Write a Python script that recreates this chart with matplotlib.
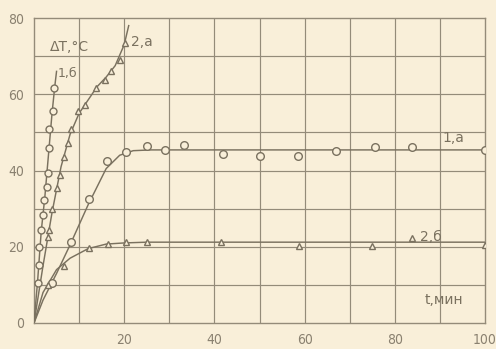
import matplotlib
matplotlib.use("Agg")
import matplotlib.pyplot as plt

# ---- data ----
# curve 1,a (circles)
t_1a = [3.9, 8.3, 12.3, 16.2, 20.3, 25.0, 29.0, 33.2, 41.8, 50.0, 58.5, 67.0, 75.6, 83.8, 100.0]
T_1a = [10.5, 21.2, 32.5, 42.4, 44.8, 46.5, 45.4, 46.7, 44.2, 43.8, 43.8, 45.1, 46.2, 46.2, 45.4]
line_t_1a = [0, 2, 5, 8, 12, 16, 19, 22, 26, 100]
line_T_1a = [0, 6, 13, 20.5, 31, 40.5, 44, 45.2, 45.4, 45.4]

# curve 2,b (triangles)
t_2b = [3.0, 6.6, 12.3, 16.3, 20.5, 25.0, 41.5, 58.7, 75.0, 83.8, 100.0]
T_2b = [10.0, 15.0, 19.7, 20.8, 21.2, 21.2, 21.2, 20.2, 20.3, 22.3, 20.5]
line_t_2b = [0, 2, 5, 8, 12, 16, 20, 25, 100]
line_T_2b = [0, 8, 14, 17, 19.5, 20.7, 21.0, 21.2, 21.2]

# curve 1,b (circles, steepest)
t_1b = [0.8, 1.0, 1.2, 1.6, 2.0, 2.3, 2.8, 3.0, 3.4, 3.4, 4.2, 4.5]
T_1b = [10.5, 15.2, 20.0, 24.4, 28.3, 32.3, 35.6, 39.4, 46.0, 51.0, 55.5, 61.6]
line_t_1b = [0, 0.8, 1.6, 2.4, 3.2, 4.0, 4.6, 5.0]
line_T_1b = [0, 11, 24, 33, 44, 55, 62, 66]

# curve 2,a (triangles)
t_2a = [3.0, 3.4, 4.1, 5.2, 5.7, 6.6, 7.5, 8.3, 9.7, 11.2, 13.8, 15.7, 17.1, 19.0, 20.1]
T_2a = [22.6, 24.4, 30.0, 35.4, 38.8, 43.6, 47.1, 51.0, 55.5, 57.2, 61.6, 63.8, 66.0, 69.0, 73.5]
line_t_2a = [0, 2, 4, 6, 8, 10, 12, 14, 16, 18, 20, 21]
line_T_2a = [0, 15, 29, 41, 49.5, 55, 58.5, 62, 64.5, 67.5, 73, 78]

x_ticks = [0, 20, 40, 60, 80, 100]
x_labels = ["", "20", "40", "60", "80", "100"]
y_ticks = [0, 20, 40, 60, 80]
y_labels = ["0", "20", "40", "60", "80"]

# ---- style ----
bg = "#f9efd9"
ink = "#7a715f"
grid_c = "#948b79"
label_c = "#8a8170"

fig = plt.figure(figsize=(4.96, 3.49), dpi=100, facecolor=bg)
ax = fig.add_axes([34 / 496, 1 - 323 / 349, (485 - 34) / 496, (323 - 18) / 349])
ax.set_facecolor(bg)
ax.set_xlim(0, 100)
ax.set_ylim(0, 80)

for v in range(10, 100, 10):
    ax.axvline(v, color=grid_c, lw=0.85, zorder=1)
for v in range(10, 80, 10):
    ax.axhline(v, color=grid_c, lw=0.85, zorder=1)
for s in ax.spines.values():
    s.set_color(grid_c)
    s.set_linewidth(1.0)

ax.set_xticks(x_ticks)
ax.set_xticklabels(x_labels)
ax.set_yticks(y_ticks)
ax.set_yticklabels(y_labels)
ax.tick_params(length=0, colors=label_c, labelsize=10)
ax.tick_params(axis="x", pad=7)
ax.tick_params(axis="y", pad=7)
for lab in ax.get_xticklabels() + ax.get_yticklabels():
    lab.set_fontfamily("DejaVu Sans")
    lab.set_fontstretch("condensed")

lw = 1.05
ax.plot(line_t_1a, line_T_1a, color=ink, lw=lw, zorder=3)
ax.plot(line_t_2b, line_T_2b, color=ink, lw=lw, zorder=3)
ax.plot(line_t_1b, line_T_1b, color=ink, lw=lw, zorder=3)
ax.plot(line_t_2a, line_T_2a, color=ink, lw=lw, zorder=3)

mk = dict(linestyle="none", markerfacecolor=bg, markeredgecolor=ink, markeredgewidth=1.0, zorder=4)
ax.plot(t_1a, T_1a, marker="o", markersize=5.5, **mk)
ax.plot(t_1b, T_1b, marker="o", markersize=5.0, **mk)
ax.plot(t_2b, T_2b, marker="^", markersize=5.0, **mk)
ax.plot(t_2a, T_2a, marker="^", markersize=5.0, **mk)

ax.text(3.5, 72.5, "ΔT,°C", color=ink, fontsize=10, ha="left", va="center", zorder=5)
ax.text(93, 48.5, "1,a", color=ink, fontsize=10, ha="center", va="center", zorder=5)
ax.text(85.5, 22.5, "2,б", color=ink, fontsize=10, ha="left", va="center", zorder=5)
ax.text(7.5, 65.5, "1,б", color=ink, fontsize=9, ha="center", va="center", zorder=5)
ax.text(21.5, 73.7, "2,a", color=ink, fontsize=10, ha="left", va="center", zorder=5)
ax.text(91, 6, "t,мин", color=ink, fontsize=10, ha="center", va="center", zorder=5)

fig.savefig("out.png", dpi=100, facecolor=bg)
